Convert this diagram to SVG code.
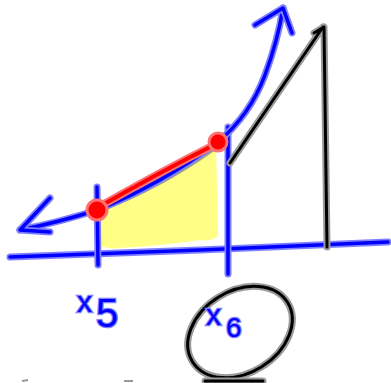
<svg xmlns="http://www.w3.org/2000/svg" width="391" height="383" viewBox="0 0 391 383">
<style>
.bh{fill:none;stroke:#7f7fff;stroke-width:7;stroke-linecap:round;stroke-linejoin:round}
.b{fill:none;stroke:#0000ff;stroke-width:3.5;stroke-linecap:round;stroke-linejoin:round}
.kh{fill:none;stroke:#9a9a9a;stroke-width:7;stroke-linecap:round;stroke-linejoin:round}
.k{fill:none;stroke:#000;stroke-width:3;stroke-linecap:round;stroke-linejoin:round}
.lbl{font-family:"Liberation Sans",Arial,sans-serif;fill:#0000ff;stroke:#7f7fff;stroke-width:2.5;paint-order:stroke}
</style>
<rect width="391" height="383" fill="#fff"/>
<g id="shade">
<path d="M97,213 Q150,185 216,146 L218,236 Q210,242 200,240 Q160,246 120,248 Q100,250 97,240 Z" fill="#ffff70" opacity="0.85"/>
<path d="M99,211 Q160,188 213,150" fill="none" stroke="#888" stroke-width="3" opacity="0.8" stroke-linecap="round"/>
</g>
<g id="axes">
<path class="bh" d="M10,257 L200,250 L388,242"/>
<path class="b" d="M10,257 L200,250 L388,242"/>
<path class="bh" d="M97,187 L98,265"/>
<path class="b" d="M97,187 L98,265"/>
<path class="bh" d="M228,127 L228,274"/>
<path class="b" d="M228,127 L228,274"/>
</g>
<g id="curve">
<path class="bh" d="M20,230 Q60,222 97,210 Q160,185 218,142 Q250,115 265,75 Q278,40 283,8"/>
<path class="b" d="M20,230 Q60,222 97,210 Q160,185 218,142 Q250,115 265,75 Q278,40 283,8"/>
<path class="bh" d="M50,198 L20,230 L50,232"/>
<path class="b" d="M50,198 L20,230 L50,232"/>
<path class="bh" d="M255,25 L283,8 L292,33"/>
<path class="b" d="M255,25 L283,8 L292,33"/>
</g>
<g id="triangle">
<path class="kh" d="M230,163 L323,27 M314,33 L324,27 L327,247"/>
<path class="k" d="M230,163 L323,27 M314,33 L324,27 L327,247"/>
</g>
<g id="secant">
<path d="M97,208 Q160,172 216,144" fill="none" stroke="#ff7070" stroke-width="8" stroke-linecap="round"/>
<path d="M97,208 Q160,172 216,144" fill="none" stroke="#ff0000" stroke-width="4" stroke-linecap="round"/>
<circle cx="97" cy="210" r="10" fill="#ff0000" stroke="#ff7070" stroke-width="3"/>
<circle cx="218" cy="142" r="9" fill="#ff0000" stroke="#ff7070" stroke-width="3"/>
</g>
<g id="label-x5">
<text class="lbl" x="77" y="312" font-size="30">x</text>
<text class="lbl" x="96" y="327" font-size="40">5</text>
</g>
<g id="circle-x6">
<ellipse cx="240" cy="332" rx="56" ry="41" transform="rotate(-32 240 332)" class="kh"/>
<ellipse cx="240" cy="332" rx="56" ry="41" transform="rotate(-32 240 332)" class="k"/>
<path class="kh" d="M205,381 L263,381"/>
<path class="k" d="M205,381 L263,381"/>
</g>
<g id="label-x6">
<text class="lbl" x="206" y="325" font-size="30">x</text>
<text class="lbl" x="226" y="337" font-size="28">6</text>
</g>
<g id="smudges">
<path d="M22,381 L28,380 M124,381 L133,381" stroke="#999" stroke-width="2" fill="none"/>
</g>
</svg>
